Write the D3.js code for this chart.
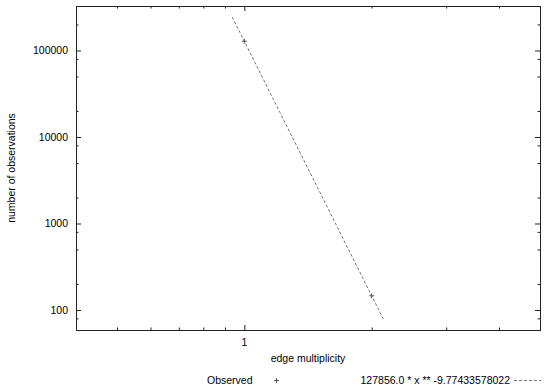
<!DOCTYPE html>
<html>
<head>
<meta charset="utf-8">
<script src="https://cdn.jsdelivr.net/npm/d3@7/dist/d3.min.js"></script>
<style>
  html, body { margin: 0; padding: 0; background: #fff; }
  svg { display: block; }
  text { font-family: "Liberation Sans", Arial, Helvetica, sans-serif; font-size: 10.5px; fill: #000; }
</style>
</head>
<body>
<svg id="chart" width="549" height="391"></svg>
<script>
// Observed counts per edge multiplicity
const multiplicity = [1, 2];
const observations = [127856, 146];

// Power-law fit: A * x ** B
const fitA = 127856.0;
const fitB = -9.77433578022;
const fitLabel = "127856.0 * x ** -9.77433578022";
const fitXRange = [0.936, 2.13];

// Axis ranges and ticks
const xDomain = [0.4, 5];
const yDomain = [58.7, 327000];
const xMajorTicks = [1];
const xMinorTicks = [0.5, 0.6, 0.7, 0.8, 0.9, 2, 3, 4];
const yMajorTicks = [100, 1000, 10000, 100000];
const yMinorTicks = [80, 200, 500, 800, 2000, 5000, 8000, 20000, 50000, 80000, 200000];

const svg = d3.select("#chart");
const plotLeft = 76, plotRight = 540, plotTop = 6, plotBottom = 330;

const x = d3.scaleLog().domain(xDomain).range([plotLeft, plotRight]);
const y = d3.scaleLog().domain(yDomain).range([plotBottom, plotTop]);

const fmt = d3.format("d");
const frameColor = "#222";

// Axes on all four sides: major ticks longer than minor ones
function tickAxis(gen, scale, ticks, size, pos) {
  return svg.append("g")
    .attr("transform", pos)
    .call(gen(scale).tickValues(ticks).tickSize(size).tickFormat(""))
    .call(g => g.select(".domain").remove())
    .call(g => g.selectAll("line").attr("stroke", frameColor));
}

// bottom
tickAxis(d3.axisTop, x, xMajorTicks, 5, `translate(0,${plotBottom})`);
tickAxis(d3.axisTop, x, xMinorTicks, 2.5, `translate(0,${plotBottom})`);
// top
tickAxis(d3.axisBottom, x, xMajorTicks, 5, `translate(0,${plotTop})`);
tickAxis(d3.axisBottom, x, xMinorTicks, 2.5, `translate(0,${plotTop})`);
// left
tickAxis(d3.axisRight, y, yMajorTicks, 5, `translate(${plotLeft},0)`);
tickAxis(d3.axisRight, y, yMinorTicks, 2.5, `translate(${plotLeft},0)`);
// right
tickAxis(d3.axisLeft, y, yMajorTicks, 5, `translate(${plotRight},0)`);
tickAxis(d3.axisLeft, y, yMinorTicks, 2.5, `translate(${plotRight},0)`);

// Tick labels
svg.append("g").selectAll("text").data(yMajorTicks).join("text")
  .attr("x", plotLeft - 8).attr("y", d => y(d)).attr("dy", "0.35em")
  .attr("text-anchor", "end").text(fmt);
svg.append("g").selectAll("text").data(xMajorTicks).join("text")
  .attr("x", d => x(d)).attr("y", plotBottom + 16)
  .attr("text-anchor", "middle").text(fmt);

// Frame
svg.append("rect")
  .attr("x", plotLeft + 0.5).attr("y", plotTop + 0.5)
  .attr("width", plotRight - plotLeft).attr("height", plotBottom - plotTop)
  .attr("fill", "none").attr("stroke", frameColor).attr("stroke-width", 1);

// Axis titles
svg.append("text")
  .attr("transform", `translate(15,${(plotTop + plotBottom) / 2}) rotate(-90)`)
  .attr("text-anchor", "middle").text("number of observations");
svg.append("text")
  .attr("x", (plotLeft + plotRight) / 2).attr("y", 362)
  .attr("text-anchor", "middle").text("edge multiplicity");

// Fitted power law (straight on log-log axes)
const fitPts = fitXRange.map(v => [v, fitA * Math.pow(v, fitB)]);
svg.append("path")
  .datum(fitPts)
  .attr("d", d3.line().x(d => x(d[0])).y(d => y(d[1])))
  .attr("fill", "none").attr("stroke", "#777").attr("stroke-width", 1)
  .attr("stroke-dasharray", "3,2");

// Observed points as "+" markers
const plus = (cx, cy, r) => `M${cx - r},${cy}H${cx + r}M${cx},${cy - r}V${cy + r}`;
svg.append("g").selectAll("path")
  .data(multiplicity.map((m, i) => [m, observations[i]]))
  .join("path")
  .attr("d", d => plus(x(d[0]), y(d[1]), 2.5))
  .attr("stroke", "#555").attr("stroke-width", 1).attr("fill", "none");

// Legend
const ly = 380;
svg.append("text").attr("x", 207).attr("y", ly).attr("dy", "0.35em").text("Observed");
svg.append("path").attr("d", plus(276.5, ly + 0.5, 2.5))
  .attr("stroke", "#555").attr("stroke-width", 1).attr("fill", "none");
svg.append("text").attr("x", 510).attr("y", ly).attr("dy", "0.35em")
  .attr("text-anchor", "end").text(fitLabel);
svg.append("line").attr("x1", 514).attr("x2", 541).attr("y1", ly + 0.5).attr("y2", ly + 0.5)
  .attr("stroke", "#777").attr("stroke-width", 1).attr("stroke-dasharray", "3,2");
</script>
</body>
</html>
